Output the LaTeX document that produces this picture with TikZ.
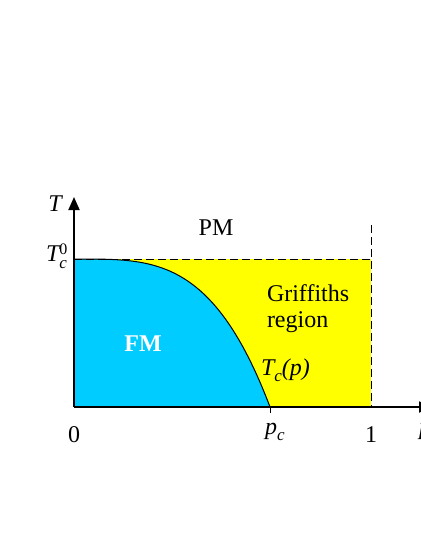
\documentclass[tikz,border=0pt]{standalone}
\usepackage{fontspec}
\setmainfont{Liberation Serif}
\usetikzlibrary{arrows.meta}
\definecolor{fmcyan}{RGB}{0,204,255}
\definecolor{grfyellow}{RGB}{255,255,0}
\newcommand\lblsub[1]{\raisebox{-0.28em}{\fontsize{17}{17}\selectfont\itshape #1}}
\begin{document}
\begin{tikzpicture}[x=1pt,y=-1pt,
  lbl/.style={font=\fontsize{24}{26}\selectfont, inner sep=0pt, outer sep=0pt},
  axis/.style={line width=1.8pt, -{Triangle[length=13pt,width=11pt]}},
  border/.style={line width=0.9pt, dash pattern=on 8pt off 4pt},
  curve/.style={line width=1pt}]
\useasboundingbox (0,0) rectangle (420,543);
\coordinate (O) at (74,407);
\coordinate (T0) at (74,259);
\coordinate (Pc) at (270,407);
\coordinate (Ycorner) at (371,259);
\coordinate (One) at (371,407);
\coordinate (Vtop) at (371,225);
\coordinate (Ytip) at (74,197);
\coordinate (Xtip) at (432,407);
% regions
\fill[grfyellow] (T0) rectangle (One);
\fill[fmcyan] (O) -- (T0)
  -- plot[domain=0:1, samples=80, smooth] ({74+196*\x},{407-148*(1-(\x)^3.5)}) -- cycle;
\draw[curve] plot[domain=0:1, samples=80, smooth] ({74+196*\x},{407-148*(1-(\x)^3.5)});
% dashed borders
\draw[border] (T0) -- (Ycorner);
\draw[border] (Vtop) -- (One);
% tick
\draw[line width=0.8pt] (Pc) -- ++(0,6);
% axes
\draw[axis] (O) -- (Ytip);
\draw[axis] (O) -- (Xtip);
% labels
\node[lbl, anchor=base] (Tlab) at (55,211) {\itshape T};
\node[lbl, anchor=base west] (Tc0) at (46,261) {\itshape T\makebox[0pt][l]{\raisebox{-0.3em}{\fontsize{17}{17}\selectfont c}}\raisebox{0.27em}{\fontsize{16}{16}\selectfont\upshape 0}};
\node[lbl, anchor=base] (PM) at (216,235) {PM};
\node[lbl, anchor=base west, align=left] (Gr) at (267,327) {Griffiths\\region};
\node[lbl, anchor=base, text=white, font=\fontsize{24}{26}\selectfont\bfseries] (FM) at (143,351) {FM};
\node[lbl, anchor=base west] (Tcp) at (261,375) {\itshape T\lblsub{c}(p)};
\node[lbl, anchor=base] (zero) at (74,442) {0};
\node[lbl, anchor=base west] (pc) at (265,434) {\itshape p\lblsub{c}};
\node[lbl, anchor=base] (one) at (371,442) {1};
\node[lbl, anchor=base west] (plab) at (419,434) {\itshape p};
\end{tikzpicture}
\end{document}
